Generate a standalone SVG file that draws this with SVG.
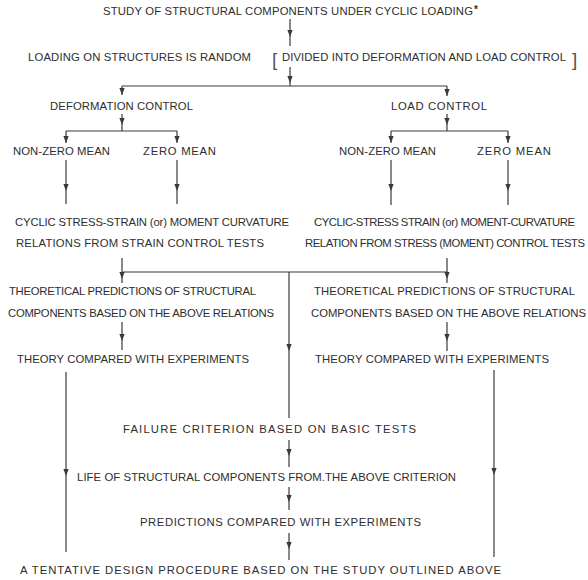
<svg xmlns="http://www.w3.org/2000/svg" xmlns:xlink="http://www.w3.org/1999/xlink" width="588" height="580" viewBox="0 0 588 580">
<defs>
<style>
text{font-family:"Liberation Sans","DejaVu Sans",Arial,sans-serif;font-size:11.3px;fill:#2e2e2e;}
.br{font-size:19px;font-weight:normal;fill:#555;}
.sup{font-size:10px;font-weight:bold;}
.c line{stroke:#3a3a3a;stroke-width:1.2;fill:none;}
.c use{fill:#3a3a3a;}
</style>
<path id="ah" d="M-2.6,-7 L2.6,-7 L0,0 Z"/>
</defs>
<rect width="588" height="580" fill="#fff"/>

<g id="n_study"><text x="103" y="15" textLength="370" lengthAdjust="spacing">STUDY OF STRUCTURAL COMPONENTS UNDER CYCLIC LOADING</text><text class="sup" x="474" y="13">*</text></g>
<g id="n_random"><text x="28" y="61" textLength="223" lengthAdjust="spacing">LOADING ON STRUCTURES IS RANDOM</text></g>
<g id="n_divided"><text class="br" x="272" y="66">[</text><text x="282" y="61" textLength="284" lengthAdjust="spacing">DIVIDED INTO DEFORMATION AND LOAD CONTROL</text><text class="br" x="572" y="66">]</text></g>
<g id="n_defctrl"><text x="50" y="110" textLength="143" lengthAdjust="spacing">DEFORMATION CONTROL</text></g>
<g id="n_loadctrl"><text x="391" y="110" textLength="96" lengthAdjust="spacing">LOAD CONTROL</text></g>
<g id="n_nz1"><text x="13" y="155" textLength="97" lengthAdjust="spacing">NON-ZERO MEAN</text></g>
<g id="n_z1"><text x="143" y="155" textLength="73" lengthAdjust="spacing">ZERO MEAN</text></g>
<g id="n_nz2"><text x="339" y="155" textLength="97" lengthAdjust="spacing">NON-ZERO MEAN</text></g>
<g id="n_z2"><text x="477" y="155" textLength="74" lengthAdjust="spacing">ZERO MEAN</text></g>
<g id="n_rel1"><text x="15" y="226" textLength="274" lengthAdjust="spacing">CYCLIC STRESS-STRAIN (or) MOMENT CURVATURE</text><text x="16" y="247" textLength="248" lengthAdjust="spacing">RELATIONS FROM STRAIN CONTROL TESTS</text></g>
<g id="n_rel2"><text x="314" y="226" textLength="261" lengthAdjust="spacing">CYCLIC-STRESS STRAIN (or) MOMENT-CURVATURE</text><text x="305" y="247" textLength="280" lengthAdjust="spacing">RELATION FROM STRESS (MOMENT) CONTROL TESTS</text></g>
<g id="n_theo1"><text x="9" y="295" textLength="247" lengthAdjust="spacing">THEORETICAL PREDICTIONS OF STRUCTURAL</text><text x="8" y="317" textLength="266" lengthAdjust="spacing">COMPONENTS BASED ON THE ABOVE RELATIONS</text></g>
<g id="n_theo2"><text x="314" y="295" textLength="261" lengthAdjust="spacing">THEORETICAL PREDICTIONS OF STRUCTURAL</text><text x="311" y="317" textLength="275" lengthAdjust="spacing">COMPONENTS BASED ON THE ABOVE RELATIONS</text></g>
<g id="n_comp1"><text x="17" y="363" textLength="232" lengthAdjust="spacing">THEORY COMPARED WITH EXPERIMENTS</text></g>
<g id="n_comp2"><text x="315" y="363" textLength="234" lengthAdjust="spacing">THEORY COMPARED WITH EXPERIMENTS</text></g>
<g id="n_failure"><text x="123" y="433" textLength="293" lengthAdjust="spacing">FAILURE CRITERION BASED ON BASIC TESTS</text></g>
<g id="n_life"><text x="77" y="481" textLength="379" lengthAdjust="spacing">LIFE OF STRUCTURAL COMPONENTS FROM.THE ABOVE CRITERION</text></g>
<g id="n_pred"><text x="140" y="526" textLength="281" lengthAdjust="spacing">PREDICTIONS COMPARED WITH EXPERIMENTS</text></g>
<g id="n_design"><text x="20" y="574" textLength="481" lengthAdjust="spacing">A TENTATIVE DESIGN PROCEDURE BASED ON THE STUDY OUTLINED ABOVE</text></g>

<g id="connectors" class="c">
<line x1="290" y1="19" x2="290" y2="46"/><use xlink:href="#ah" x="290" y="37"/>
<line x1="290" y1="67" x2="290" y2="86"/><use xlink:href="#ah" x="290" y="83"/>
<line x1="122" y1="86" x2="447" y2="86"/>
<line x1="122" y1="86" x2="122" y2="95"/><use xlink:href="#ah" x="122" y="95"/>
<line x1="447" y1="86" x2="447" y2="96"/><use xlink:href="#ah" x="447" y="96"/>
<line x1="122" y1="114" x2="122" y2="131"/><use xlink:href="#ah" x="122" y="125"/>
<line x1="66" y1="131" x2="177" y2="131"/>
<line x1="66" y1="131" x2="66" y2="143"/><use xlink:href="#ah" x="66" y="143"/>
<line x1="177" y1="131" x2="177" y2="143"/><use xlink:href="#ah" x="177" y="143"/>
<line x1="447" y1="114" x2="447" y2="131"/><use xlink:href="#ah" x="447" y="125"/>
<line x1="391" y1="131" x2="508" y2="131"/>
<line x1="391" y1="131" x2="391" y2="143"/><use xlink:href="#ah" x="391" y="143"/>
<line x1="508" y1="131" x2="508" y2="143"/><use xlink:href="#ah" x="508" y="143"/>
<line x1="66" y1="160" x2="66" y2="204"/><use xlink:href="#ah" x="66" y="191"/>
<line x1="177" y1="160" x2="177" y2="204"/><use xlink:href="#ah" x="177" y="191"/>
<line x1="391" y1="160" x2="391" y2="205"/><use xlink:href="#ah" x="391" y="191"/>
<line x1="508" y1="160" x2="508" y2="205"/><use xlink:href="#ah" x="508" y="191"/>
<line x1="122" y1="258" x2="122" y2="283"/><use xlink:href="#ah" x="122" y="279"/>
<line x1="123" y1="272" x2="447" y2="272"/>
<line x1="447" y1="258" x2="447" y2="283"/><use xlink:href="#ah" x="447" y="279"/>
<line x1="289" y1="272" x2="289" y2="418"/><use xlink:href="#ah" x="289" y="351"/>
<line x1="122" y1="322" x2="122" y2="350"/><use xlink:href="#ah" x="122" y="341"/>
<line x1="447" y1="322" x2="447" y2="351"/><use xlink:href="#ah" x="447" y="341"/>
<line x1="66" y1="372" x2="66" y2="552"/><use xlink:href="#ah" x="66" y="476"/>
<line x1="494" y1="370" x2="494" y2="557"/><use xlink:href="#ah" x="494" y="475"/>
<line x1="289" y1="440" x2="289" y2="467"/><use xlink:href="#ah" x="289" y="456"/>
<line x1="289" y1="487" x2="289" y2="510"/><use xlink:href="#ah" x="289" y="502"/>
<line x1="289" y1="533" x2="289" y2="560"/><use xlink:href="#ah" x="289" y="549"/>
</g>
</svg>
